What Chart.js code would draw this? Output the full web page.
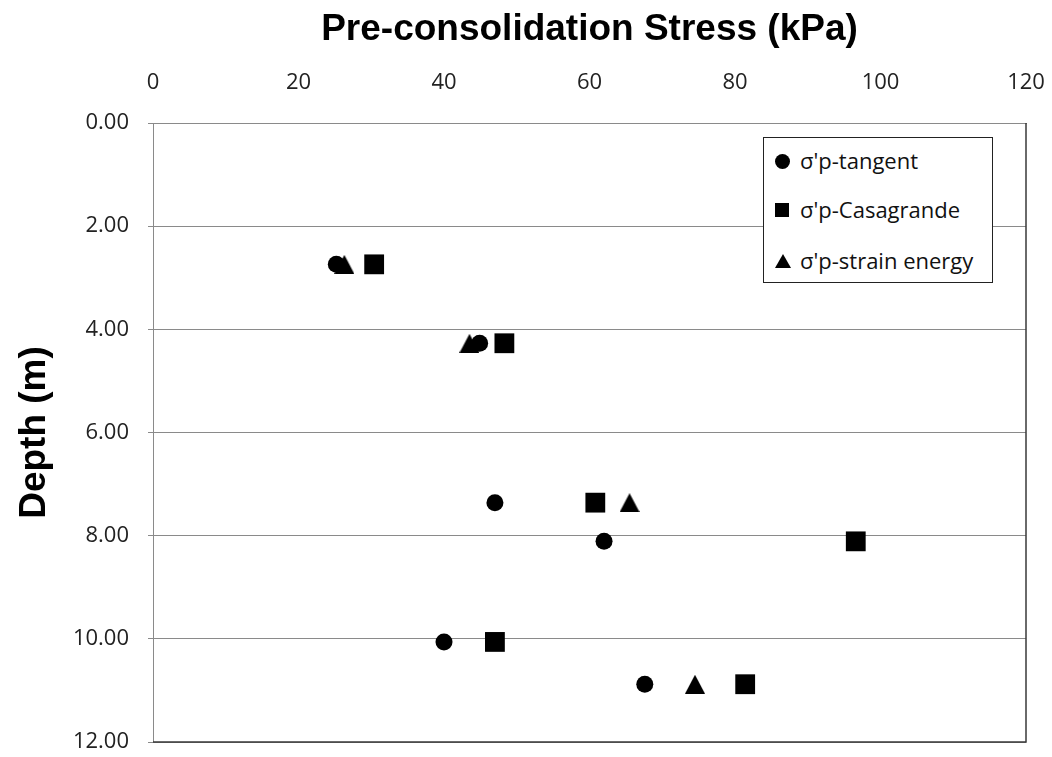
<!DOCTYPE html>
<html>
<head>
<meta charset="utf-8">
<script src="https://cdn.jsdelivr.net/npm/chart.js@4/dist/chart.umd.min.js"></script>
<style>
  html, body { margin: 0; padding: 0; background: #fff; }
  #wrap { position: relative; width: 1052px; height: 757px; }
  #legend {
    position: absolute; left: 763px; top: 137px; width: 230px; height: 146px;
    box-sizing: border-box; border: 1px solid #222; background: #fff;
    font-family: "Open Sans", sans-serif; font-size: 22px; color: #111;
  }
  .row { position: absolute; left: 0; height: 30px; line-height: 30px; white-space: nowrap; }
  .row span.txt { position: absolute; left: 36px; top: -1px; }
  .mk { position: absolute; left: 11px; top: 8px; width: 15px; height: 15px; background: #000; }
  .mk.circle { border-radius: 50%; }
  .mk.square { width: 14px; height: 14px; top: 8px; }
  .mk.tri { background: none; width: 0; height: 0; top: 8px; left: 11px;
    border-left: 8px solid transparent; border-right: 8px solid transparent; border-bottom: 14px solid #000; }
</style>
</head>
<body>
<div id="wrap">
  <canvas id="chart" width="1052" height="757"></canvas>
  <div id="legend"></div>
</div>
<script>
// depth of each test (m)
const depths = [2.74, 4.27, 7.36, 8.11, 10.06, 10.88];
// pre-consolidation stress (kPa) per method
const tangent = [25.2, 44.9, 47.0, 62.0, 40.0, 67.6];
const casagrande = [30.4, 48.3, 60.8, 96.6, 47.0, 81.4];
const strainEnergy = [26.3, 43.5, 65.5, null, null, 74.5];

const seriesNames = ["σ'p-tangent", "σ'p-Casagrande", "σ'p-strain energy"];
const seriesStyles = ['circle', 'rect', 'triangle'];
const xTicks = [0, 20, 40, 60, 80, 100, 120];
const yTicks = [0, 2, 4, 6, 8, 10, 12];

const toPoints = (vals) => vals
  .map((v, i) => (v == null ? null : { x: v, y: depths[i] }))
  .filter(p => p);

// Excel-style triangle, box-centred on the point (chart.js one sits high)
function triangleMarker(w, h) {
  const c = document.createElement('canvas');
  c.width = w; c.height = h;
  const g = c.getContext('2d');
  g.fillStyle = '#000';
  g.beginPath();
  g.moveTo(w / 2, 0);
  g.lineTo(w, h);
  g.lineTo(0, h);
  g.closePath();
  g.fill();
  return c;
}

const frame = {
  id: 'frame',
  beforeDatasetsDraw(chart) {
    const { ctx, chartArea: { left, top, right, bottom } } = chart;
    ctx.save();
    ctx.strokeStyle = '#3a3a3a';
    ctx.lineWidth = 1.5;
    ctx.beginPath();
    ctx.moveTo(right, top);
    ctx.lineTo(right, bottom);
    ctx.lineTo(left, bottom);
    ctx.stroke();
    ctx.restore();
  }
};

const tickFont = { family: 'Open Sans', size: 22 };
const titleFont = { family: 'Liberation Sans', size: 37, weight: 'bold' };

new Chart(document.getElementById('chart'), {
  type: 'scatter',
  data: {
    datasets: [
      { label: seriesNames[0], data: toPoints(tangent), pointStyle: 'circle', pointRadius: 8.5, order: 1 },
      { label: seriesNames[1], data: toPoints(casagrande), pointStyle: 'rect', pointRadius: 14, order: 2 },
      { label: seriesNames[2], data: toPoints(strainEnergy), pointStyle: triangleMarker(20, 19), pointRadius: 10, order: 0 }
    ].map(d => Object.assign(d, {
      backgroundColor: '#000', borderColor: '#000', borderWidth: 0, pointHoverRadius: d.pointRadius
    }))
  },
  options: {
    responsive: false,
    animation: false,
    events: [],
    layout: { padding: { left: 0, top: 0, right: 26, bottom: 15 } },
    plugins: { legend: { display: false }, tooltip: { enabled: false } },
    scales: {
      x: {
        type: 'linear', position: 'top', min: 0, max: 120,
        afterBuildTicks: s => { s.ticks = xTicks.map(v => ({ value: v })); },
        afterFit: s => { s.height = 123; s.paddingLeft = 0; s.paddingRight = 0; },
        grid: { display: false, drawTicks: false },
        border: { display: true, color: '#8a8a8a', width: 1 },
        ticks: { font: tickFont, color: '#222', padding: 27 },
        title: { display: true, text: 'Pre-consolidation Stress (kPa)', font: titleFont, color: '#000', padding: { top: 8, bottom: 0 } }
      },
      y: {
        type: 'linear', reverse: true, min: 0, max: 12,
        afterBuildTicks: s => { s.ticks = yTicks.map(v => ({ value: v })); },
        afterFit: s => { s.width = 153; s.paddingTop = 0; s.paddingBottom = 0; },
        grid: { color: '#8a8a8a', lineWidth: 1, drawTicks: true, tickLength: 5 },
        border: { display: true, color: '#8a8a8a', width: 1 },
        ticks: { font: tickFont, color: '#222', padding: 19, callback: v => v.toFixed(2) },
        title: { display: true, text: 'Depth (m)', font: titleFont, color: '#000', padding: { top: 13, bottom: 0 } }
      }
    }
  },
  plugins: [frame]
});

// legend box inside the plot, as in the original
const legend = document.getElementById('legend');
const rowTops = [8, 57, 108];
const mkClass = { circle: 'circle', rect: 'square', triangle: 'tri' };
seriesNames.forEach((name, i) => {
  const row = document.createElement('div');
  row.className = 'row';
  row.style.top = rowTops[i] + 'px';
  row.innerHTML = '<span class="mk ' + mkClass[seriesStyles[i]] + '"></span><span class="txt"></span>';
  row.querySelector('.txt').textContent = name;
  legend.appendChild(row);
});
</script>
</body>
</html>
